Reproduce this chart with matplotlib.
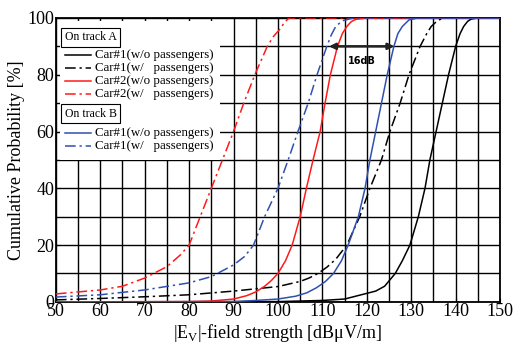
import numpy as np
import matplotlib
matplotlib.use('Agg')
import matplotlib.pyplot as plt
from matplotlib.patches import Rectangle

plt.rcParams['font.family'] = ['Liberation Serif', 'DejaVu Serif']
plt.rcParams['mathtext.fontset'] = 'custom'
plt.rcParams['mathtext.rm'] = 'Liberation Serif'

# data: field strength [dBuV/m] -> cumulative probability [%]
car1_a_wo_x = [50, 100, 110, 115, 120, 122, 124, 126.4, 128, 129.7, 131.6, 133.1, 134.2, 135.6, 137, 138.4, 140, 141, 141.8, 142.7, 143.5, 145, 150]
car1_a_wo_y = [0, 0.1, 0.5, 1, 3, 3.8, 5.5, 10, 14.5, 20, 30, 40, 50, 60, 70, 80, 90, 94.5, 97, 98.8, 99.6, 100, 100]

car1_a_w_x = [50, 60, 70, 80, 90, 100, 105, 107, 109, 111, 113, 115.5, 118.4, 120.7, 123.3, 125.2, 127.5, 129.5, 132, 133.5, 134.5, 136, 137.5, 150]
car1_a_w_y = [0.7, 1.2, 1.8, 2.5, 3.8, 5.4, 7.2, 8.4, 10, 12.2, 15, 20, 30, 40, 50, 60, 70, 80, 90, 94.5, 97, 99.2, 100, 100]

car2_a_wo_x = [50, 80, 85, 90, 93, 95, 97, 98.5, 100, 101.7, 103.2, 105, 106.4, 107.9, 109.5, 110.6, 111.8, 113.4, 114.5, 115.5, 116.5, 117.5, 120, 150]
car2_a_wo_y = [0, 0.1, 0.3, 1, 2.2, 3.5, 5.5, 7.5, 10, 14.5, 20, 30, 40, 50, 60, 70, 80, 90, 94.5, 97, 98.7, 99.5, 100, 100]

car2_a_w_x = [50, 55, 60, 65, 70, 75, 78, 80, 82.5, 85, 87.5, 90, 92.3, 94.8, 97.6, 99, 100.4, 101.5, 102.5, 150]
car2_a_w_y = [2.8, 3.5, 4.2, 5.5, 8.4, 12.4, 16.5, 20, 30, 40, 50, 60, 70, 80, 90, 93.5, 96, 98.5, 100, 100]

car1_b_wo_x = [50, 90, 95, 100, 104, 106.5, 108.7, 110.7, 112.5, 114.3, 115.8, 118.1, 119.6, 120.7, 122, 123.3, 124.6, 126.1, 127, 128, 129.5, 131.5, 150]
car1_b_wo_y = [0, 0.1, 0.5, 1, 2, 3.2, 5, 7.2, 10, 14.5, 20, 30, 40, 50, 60, 70, 80, 90, 94.5, 97, 99.3, 100, 100]

car1_b_w_x = [50, 60, 70, 80, 85, 90, 92.5, 94.5, 97, 100, 102.3, 104.5, 106.8, 108.8, 111, 112, 113, 114.5, 117, 150]
car1_b_w_y = [1.7, 2.5, 4.2, 6.7, 8.9, 13, 16, 20, 30, 40, 50, 60, 70, 80, 90, 94, 97, 99, 100, 100]

arrow_x = [111.5, 126.2]
arrow_y = 90
arrow_label = '16dB'

red = '#ff1a1a'
blue = '#3050b0'
dashdot = (0, (7, 2.5, 1.5, 2.5))

fig = plt.figure(figsize=(5.22, 3.45), dpi=100)
ax = fig.add_axes([0.107, 0.125, 0.851, 0.823])

series = [
    (car1_a_wo_x, car1_a_wo_y, 'black', '-', 'Car#1(w/o passengers)'),
    (car1_a_w_x, car1_a_w_y, 'black', dashdot, 'Car#1(w/   passengers)'),
    (car2_a_wo_x, car2_a_wo_y, red, '-', 'Car#2(w/o passengers)'),
    (car2_a_w_x, car2_a_w_y, red, dashdot, 'Car#2(w/   passengers)'),
    (car1_b_wo_x, car1_b_wo_y, blue, '-', 'Car#1(w/o passengers)'),
    (car1_b_w_x, car1_b_w_y, blue, dashdot, 'Car#1(w/   passengers)'),
]
for x, y, c, ls, lab in series:
    ax.plot(x, y, color=c, linestyle=ls, linewidth=1.1, zorder=3)

ax.set_xlim(50, 150)
ax.set_ylim(0, 100)
ax.set_xticks(np.arange(50, 151, 10))
ax.set_xticks(np.arange(50, 151, 5), minor=True)
ax.set_yticks(np.arange(0, 101, 20))
ax.set_yticks(np.arange(0, 101, 10), minor=True)
ax.grid(True, which='both', color='black', linewidth=1.0)
ax.tick_params(which='both', direction='in', length=3, labelsize=13, pad=1)
for s in ax.spines.values():
    s.set_linewidth(1.3)

ax.set_xlabel(r'|E$_{\mathregular{V}}$|-field strength [dBμV/m]', fontsize=13, labelpad=1)
ax.set_ylabel('Cumulative Probability [%]', fontsize=13, labelpad=2)

# 16dB arrow
ax.annotate('', xy=(arrow_x[0], arrow_y), xytext=(arrow_x[1], arrow_y),
            arrowprops=dict(arrowstyle='<|-|>', color='#222222', lw=1.8,
                            mutation_scale=9, shrinkA=0, shrinkB=0), zorder=4)
ax.text(sum(arrow_x) / 2, arrow_y - 5, arrow_label, family='DejaVu Sans',
        fontsize=7, fontweight='bold', ha='center', va='center', zorder=4)

# legend drawn by hand (two boxed headers)
tr = ax.transAxes
ax.add_patch(Rectangle((0.009, 0.50), 0.36, 0.49, transform=tr,
                       facecolor='white', edgecolor='none', zorder=5))
box = dict(boxstyle='square,pad=0.3', facecolor='white', edgecolor='black', linewidth=0.8)
ax.text(0.020, 0.932, 'On track A', transform=tr, fontsize=8.5, va='center',
        ha='left', bbox=box, zorder=6)
ax.text(0.020, 0.662, 'On track B', transform=tr, fontsize=8.5, va='center',
        ha='left', bbox=box, zorder=6)
rows = [0.870, 0.824, 0.778, 0.732, 0.595, 0.549]
for (x, y, c, ls, lab), ry in zip(series, rows):
    ax.plot([0.020, 0.080], [ry, ry], transform=tr, color=c, linestyle=ls,
            linewidth=1.1, zorder=6)
    ax.text(0.088, ry, lab, transform=tr, fontsize=9.3, va='center', ha='left', zorder=6)

fig.savefig('out.png', dpi=100)
